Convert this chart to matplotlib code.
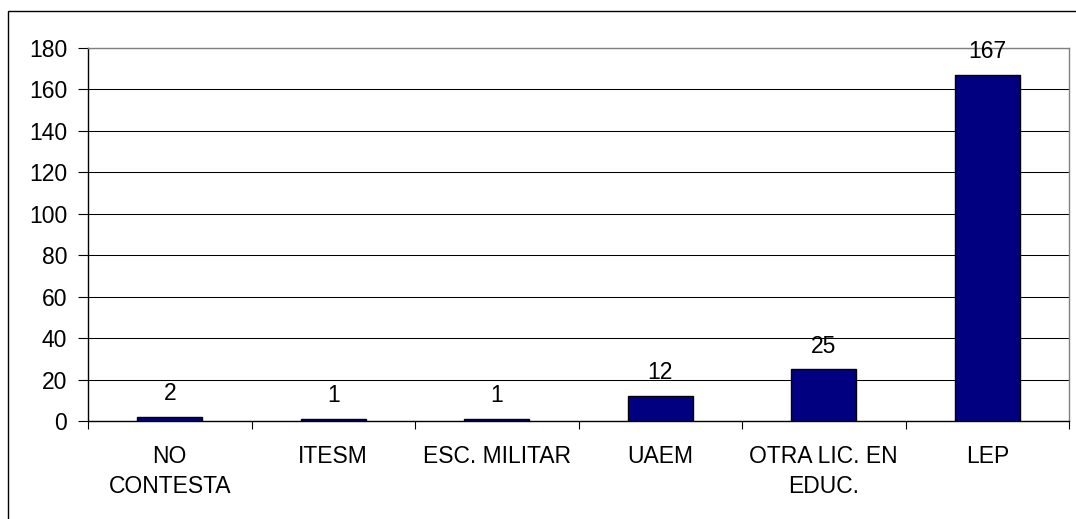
import matplotlib
matplotlib.use("Agg")
import matplotlib.pyplot as plt
from matplotlib.patches import Rectangle

# data
categorias = ["NO\nCONTESTA", "ITESM", "ESC. MILITAR", "UAEM",
              "OTRA LIC. EN\nEDUC.", "LEP"]
valores = [2, 1, 1, 12, 25, 167]
y_ticks = [0, 20, 40, 60, 80, 100, 120, 140, 160, 180]

plt.rcParams['font.family'] = ['Liberation Sans', 'DejaVu Sans']
fs = 16.5

fig = plt.figure(figsize=(10.76, 5.19), dpi=100)
ax = fig.add_axes([88/1076, 1 - 421/519, (1069 - 88)/1076, (421 - 48)/519])

# outer chart frame (runs past the right and bottom edge of the image)
fig.patches.append(Rectangle((7.5/1076, -0.05), 1.2, 1 - 11/519 + 0.05,
                             transform=fig.transFigure, fill=False,
                             edgecolor='black', linewidth=1.0, zorder=0))

x = list(range(len(categorias)))
ax.bar(x, valores, width=0.4, color='#000080', edgecolor='black',
       linewidth=1.0, zorder=3)

for xi, v in zip(x, valores):
    ax.annotate(str(v), (xi, v), xytext=(0, 12), textcoords='offset points',
                ha='center', va='baseline', fontsize=fs)

ax.set_xlim(-0.5, len(categorias) - 0.5)
ax.set_ylim(0, 180)
ax.set_yticks(y_ticks)
ax.yaxis.grid(True, color='black', linewidth=0.75)
ax.set_axisbelow(True)

# category labels centred, tick marks between categories
ax.set_xticks(x)
ax.set_xticklabels(categorias, fontsize=fs, linespacing=1.38, va='top')
ax.tick_params(axis='x', which='major', length=0, pad=17.5)
ax.set_xticks([i - 0.5 for i in range(len(categorias) + 1)], minor=True)
ax.tick_params(axis='x', which='minor', length=6, width=0.8, direction='out')
ax.tick_params(axis='y', length=7, width=0.8, pad=8, labelsize=fs)

ax.spines['left'].set_linewidth(1.0)
ax.spines['bottom'].set_linewidth(1.0)
ax.spines['top'].set_color('#808080')
ax.spines['right'].set_color('#808080')
ax.spines['top'].set_linewidth(1.0)
ax.spines['right'].set_linewidth(1.0)

fig.savefig("out.png", dpi=100)
